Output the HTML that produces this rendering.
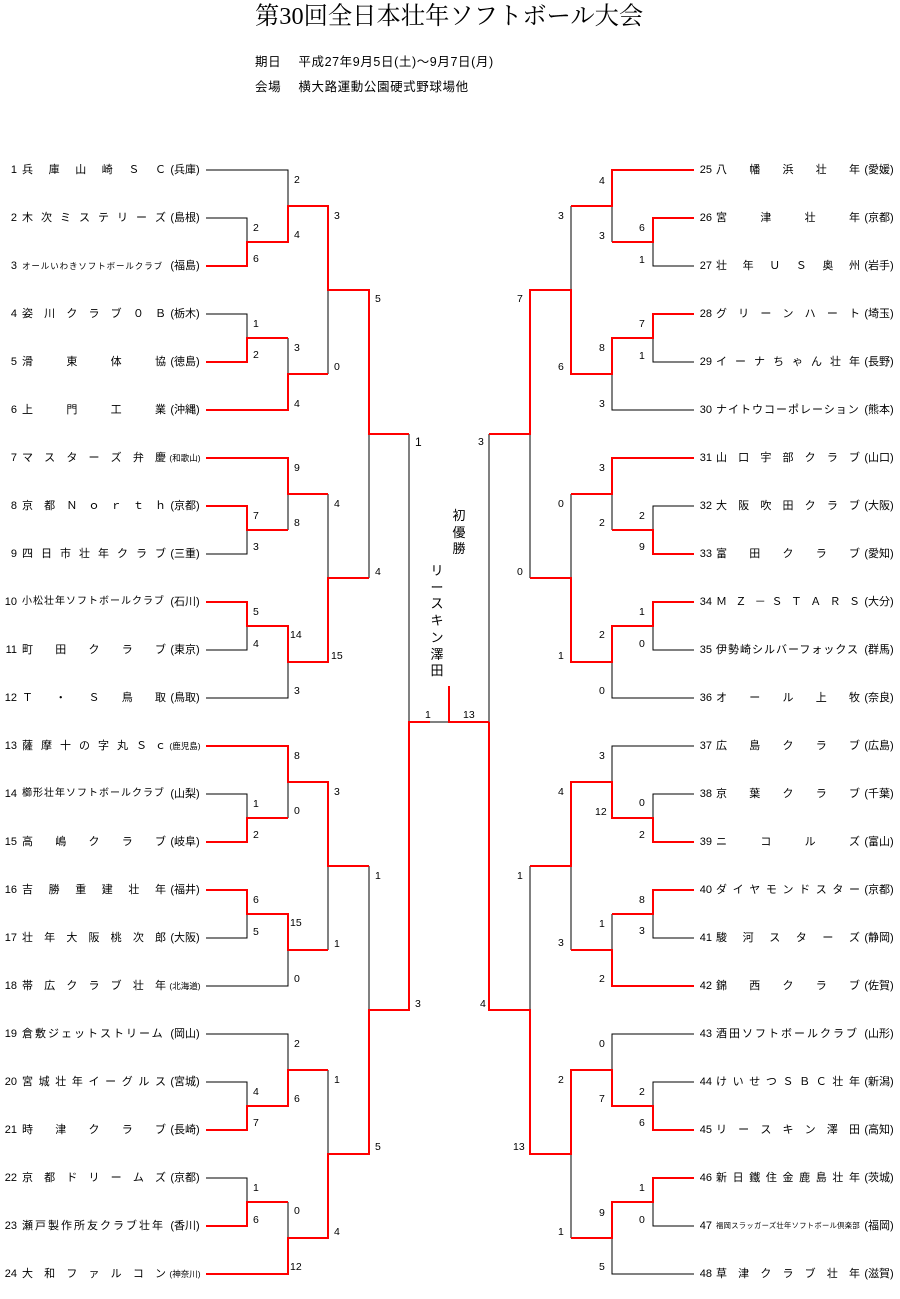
<!DOCTYPE html>
<html><head><meta charset="utf-8">
<style>
html,body{margin:0;padding:0;background:#fff;}
body{width:900px;height:1299px;position:relative;overflow:hidden;font-family:"Liberation Sans","Noto Sans CJK JP",sans-serif;color:#000;}
.ttl{position:absolute;left:255px;top:2px;font-family:"Liberation Serif","Noto Serif CJK SC",serif;font-size:24.3px;line-height:30px;white-space:nowrap;}
.info{position:absolute;left:255px;font-size:12.5px;line-height:16px;white-space:nowrap;letter-spacing:0.6px;}
.t{position:absolute;height:16px;line-height:16px;font-size:11px;white-space:nowrap;}
.t .n{position:absolute;top:0;text-align:right;}
.t .m{position:absolute;top:0;width:144px;text-align:justify;text-align-last:justify;overflow:visible;}
.t .p{position:absolute;top:0;width:36px;text-align:center;}
.L .n{left:0;width:17px;} .L .m{left:22px;} .L .p{left:167px;}
.R .n{left:0;width:16px;} .R .m{left:20px;} .R .p{left:165px;}
.s{font-size:8.5px;} .xs{font-size:7.3px;}
svg{position:absolute;left:0;top:0;}
.v{position:absolute;font-size:13px;line-height:16.5px;width:16px;text-align:center;}
</style></head><body>
<div class="ttl">第30回全日本壮年ソフトボール大会</div>
<div class="info" style="top:54px">期日　 平成27年9月5日(土)～9月7日(月)</div>
<div class="info" style="top:79px">会場　 横大路運動公園硬式野球場他</div>

<svg width="900" height="1299" viewBox="0 0 900 1299">
<g fill="none" stroke="#000" stroke-width="1">
<polyline points="206,170 288,170 288,206"/><polyline points="206,218 247,218 247,242"/>
<polyline points="206,314 247,314 247,338"/><line x1="288" y1="338" x2="288" y2="374"/>
<line x1="328" y1="290" x2="328" y2="374"/>
<polyline points="206,554 247,554 247,530"/><polyline points="206,650 247,650 247,626"/>
<polyline points="206,698 288,698 288,662"/><line x1="288" y1="494" x2="288" y2="530"/>
<line x1="328" y1="494" x2="328" y2="578"/><line x1="369" y1="434" x2="369" y2="578"/>
<polyline points="206,794 247,794 247,818"/><line x1="288" y1="782" x2="288" y2="818"/>
<polyline points="206,938 247,938 247,914"/><polyline points="206,986 288,986 288,950"/>
<line x1="328" y1="866" x2="328" y2="950"/><line x1="369" y1="866" x2="369" y2="1010"/>
<polyline points="206,1034 288,1034 288,1070"/><polyline points="206,1082 247,1082 247,1106"/>
<polyline points="206,1178 247,1178 247,1202"/><line x1="288" y1="1202" x2="288" y2="1238"/>
<line x1="328" y1="1070" x2="328" y2="1154"/>
<line x1="409" y1="434" x2="409" y2="722"/><line x1="430" y1="722" x2="449" y2="722"/>
<line x1="489" y1="434" x2="489" y2="722"/>
<polyline points="694,266 653,266 653,242"/><line x1="612" y1="206" x2="612" y2="242"/>
<line x1="571" y1="206" x2="571" y2="290"/><polyline points="694,362 653,362 653,338"/>
<polyline points="694,410 612,410 612,374"/><line x1="530" y1="434" x2="530" y2="578"/>
<polyline points="694,506 653,506 653,530"/><line x1="612" y1="494" x2="612" y2="530"/>
<polyline points="694,650 653,650 653,626"/><polyline points="694,698 612,698 612,662"/>
<line x1="571" y1="494" x2="571" y2="578"/>
<polyline points="694,746 612,746 612,782"/><polyline points="694,794 653,794 653,818"/>
<polyline points="694,938 653,938 653,914"/><line x1="612" y1="914" x2="612" y2="950"/>
<line x1="571" y1="866" x2="571" y2="950"/><line x1="530" y1="866" x2="530" y2="1010"/>
<polyline points="694,1034 612,1034 612,1070"/><polyline points="694,1082 653,1082 653,1106"/>
<polyline points="694,1226 653,1226 653,1202"/><polyline points="694,1274 612,1274 612,1238"/>
<line x1="571" y1="1154" x2="571" y2="1238"/>
</g>
<g fill="none" stroke="#f00" stroke-width="2">
<polyline points="206,266 247,266 247,242 288,242 288,206 328,206 328,290 369,290 369,434 409,434"/>
<polyline points="206,362 247,362 247,338 288,338"/>
<polyline points="206,410 288,410 288,374 328,374"/>
<polyline points="206,458 288,458 288,494 328,494"/>
<polyline points="206,506 247,506 247,530 288,530"/>
<polyline points="206,602 247,602 247,626 288,626 288,662 328,662 328,578 369,578"/>
<polyline points="206,746 288,746 288,782 328,782 328,866 369,866"/>
<polyline points="206,842 247,842 247,818 288,818"/>
<polyline points="206,890 247,890 247,914 288,914 288,950 328,950"/>
<polyline points="206,1130 247,1130 247,1106 288,1106 288,1070 328,1070"/>
<polyline points="206,1226 247,1226 247,1202 288,1202"/>
<polyline points="206,1274 288,1274 288,1238 328,1238 328,1154 369,1154 369,1010 409,1010 409,722 430,722"/>
<polyline points="449,686 449,722 489,722"/>
<polyline points="694,170 612,170 612,206 571,206"/>
<polyline points="694,218 653,218 653,242 612,242"/>
<polyline points="694,314 653,314 653,338 612,338 612,374 571,374 571,290 530,290 530,434 489,434"/>
<polyline points="694,458 612,458 612,494 571,494"/>
<polyline points="694,554 653,554 653,530 612,530"/>
<polyline points="694,602 653,602 653,626 612,626 612,662 571,662 571,578 530,578"/>
<polyline points="694,842 653,842 653,818 612,818 612,782 571,782 571,866 530,866"/>
<polyline points="694,890 653,890 653,914 612,914"/>
<polyline points="694,986 612,986 612,950 571,950"/>
<polyline points="694,1130 653,1130 653,1106 612,1106 612,1070 571,1070 571,1154 530,1154 530,1010 489,1010 489,722"/>
<polyline points="694,1178 653,1178 653,1202 612,1202 612,1238 571,1238"/>
</g>
<g font-family="Liberation Sans, sans-serif" font-size="10.5" fill="#000">
<text x="294" y="183">2</text><text x="294" y="238">4</text><text x="253" y="231">2</text><text x="253" y="262">6</text>
<text x="334" y="219">3</text><text x="334" y="370">0</text><text x="253" y="327">1</text><text x="253" y="358">2</text>
<text x="294" y="351">3</text><text x="294" y="407">4</text><text x="375" y="302">5</text>
<text x="415" y="446" font-size="12">1</text>
<text x="294" y="471">9</text><text x="294" y="526">8</text><text x="253" y="519">7</text><text x="253" y="550">3</text>
<text x="253" y="615">5</text><text x="253" y="647">4</text><text x="290" y="638">14</text><text x="294" y="694">3</text>
<text x="334" y="507">4</text><text x="331" y="659">15</text><text x="375" y="575">4</text>
<text x="294" y="759">8</text><text x="294" y="814">0</text><text x="253" y="807">1</text><text x="253" y="838">2</text>
<text x="253" y="903">6</text><text x="253" y="935">5</text><text x="290" y="926">15</text><text x="294" y="982">0</text>
<text x="334" y="795">3</text><text x="334" y="947">1</text><text x="375" y="879">1</text>
<text x="294" y="1047">2</text><text x="294" y="1102">6</text><text x="253" y="1095">4</text><text x="253" y="1126">7</text>
<text x="253" y="1191">1</text><text x="253" y="1223">6</text><text x="294" y="1214">0</text><text x="290" y="1270">12</text>
<text x="334" y="1083">1</text><text x="334" y="1235">4</text><text x="375" y="1150">5</text><text x="415" y="1007">3</text>
<text x="425" y="718">1</text><text x="463" y="718">13</text>
<text x="599" y="184">4</text><text x="599" y="239">3</text><text x="639" y="231">6</text><text x="639" y="263">1</text>
<text x="639" y="327">7</text><text x="639" y="359">1</text><text x="599" y="351">8</text><text x="599" y="407">3</text>
<text x="558" y="219">3</text><text x="558" y="370">6</text><text x="517" y="302">7</text><text x="517" y="575">0</text>
<text x="478" y="445">3</text>
<text x="599" y="471">3</text><text x="599" y="526">2</text><text x="639" y="519">2</text><text x="639" y="550">9</text>
<text x="639" y="615">1</text><text x="639" y="647">0</text><text x="599" y="638">2</text><text x="599" y="694">0</text>
<text x="558" y="507">0</text><text x="558" y="659">1</text>
<text x="599" y="759">3</text><text x="595" y="815">12</text><text x="639" y="806">0</text><text x="639" y="838">2</text>
<text x="558" y="795">4</text><text x="558" y="946">3</text>
<text x="639" y="903">8</text><text x="639" y="934">3</text><text x="599" y="927">1</text><text x="599" y="982">2</text>
<text x="517" y="879">1</text><text x="513" y="1150">13</text>
<text x="599" y="1047">0</text><text x="558" y="1083">2</text><text x="599" y="1102">7</text><text x="639" y="1095">2</text><text x="639" y="1126">6</text>
<text x="639" y="1191">1</text><text x="599" y="1216">9</text><text x="639" y="1223">0</text><text x="558" y="1235">1</text><text x="599" y="1270">5</text>
<text x="480" y="1007">4</text>
</g>
</svg>

<div class="v" style="left:451px;top:508px">初<br>優<br>勝</div>
<div class="v" style="left:429px;top:563px;line-height:16.7px">リ<br>ー<br>ス<br>キ<br>ン<br>澤<br>田</div>

<div class="t L" style="left:0;top:162px"><span class="n">1</span><span class="m">兵 庫 山 崎 Ｓ Ｃ</span><span class="p">(兵庫)</span></div>
<div class="t L" style="left:0;top:210px"><span class="n">2</span><span class="m">木 次 ミ ス テ リ ー ズ</span><span class="p">(島根)</span></div>
<div class="t L" style="left:0;top:258px"><span class="n">3</span><span class="m s" style="letter-spacing:0.9px;text-align-last:left">オールいわきソフトボールクラブ</span><span class="p">(福島)</span></div>
<div class="t L" style="left:0;top:306px"><span class="n">4</span><span class="m">姿 川 ク ラ ブ ０ Ｂ</span><span class="p">(栃木)</span></div>
<div class="t L" style="left:0;top:354px"><span class="n">5</span><span class="m">滑 東 体 協</span><span class="p">(徳島)</span></div>
<div class="t L" style="left:0;top:402px"><span class="n">6</span><span class="m">上 門 工 業</span><span class="p">(沖縄)</span></div>
<div class="t L" style="left:0;top:450px"><span class="n">7</span><span class="m">マ ス タ ー ズ 弁 慶</span><span class="p s">(和歌山)</span></div>
<div class="t L" style="left:0;top:498px"><span class="n">8</span><span class="m">京 都 Ｎ ｏ ｒ ｔ ｈ</span><span class="p">(京都)</span></div>
<div class="t L" style="left:0;top:546px"><span class="n">9</span><span class="m">四 日 市 壮 年 ク ラ ブ</span><span class="p">(三重)</span></div>
<div class="t L" style="left:0;top:594px"><span class="n">10</span><span class="m" style="font-size:10px;letter-spacing:1px;text-align-last:left">小松壮年ソフトボールクラブ</span><span class="p">(石川)</span></div>
<div class="t L" style="left:0;top:642px"><span class="n">11</span><span class="m">町 田 ク ラ ブ</span><span class="p">(東京)</span></div>
<div class="t L" style="left:0;top:690px"><span class="n">12</span><span class="m">Ｔ ・ Ｓ 鳥 取</span><span class="p">(鳥取)</span></div>
<div class="t L" style="left:0;top:738px"><span class="n">13</span><span class="m">薩 摩 十 の 字 丸 Ｓ ｃ</span><span class="p s">(鹿児島)</span></div>
<div class="t L" style="left:0;top:786px"><span class="n">14</span><span class="m" style="font-size:10px;letter-spacing:1px;text-align-last:left">櫛形壮年ソフトボールクラブ</span><span class="p">(山梨)</span></div>
<div class="t L" style="left:0;top:834px"><span class="n">15</span><span class="m">高 嶋 ク ラ ブ</span><span class="p">(岐阜)</span></div>
<div class="t L" style="left:0;top:882px"><span class="n">16</span><span class="m">吉 勝 重 建 壮 年</span><span class="p">(福井)</span></div>
<div class="t L" style="left:0;top:930px"><span class="n">17</span><span class="m">壮 年 大 阪 桃 次 郎</span><span class="p">(大阪)</span></div>
<div class="t L" style="left:0;top:978px"><span class="n">18</span><span class="m">帯 広 ク ラ ブ 壮 年</span><span class="p s">(北海道)</span></div>
<div class="t L" style="left:0;top:1026px"><span class="n">19</span><span class="m" style="letter-spacing:2px;text-align-last:left">倉敷ジェットストリーム</span><span class="p">(岡山)</span></div>
<div class="t L" style="left:0;top:1074px"><span class="n">20</span><span class="m">宮 城 壮 年 イ ー グ ル ス</span><span class="p">(宮城)</span></div>
<div class="t L" style="left:0;top:1122px"><span class="n">21</span><span class="m">時 津 ク ラ ブ</span><span class="p">(長崎)</span></div>
<div class="t L" style="left:0;top:1170px"><span class="n">22</span><span class="m">京 都 ド リ ー ム ズ</span><span class="p">(京都)</span></div>
<div class="t L" style="left:0;top:1218px"><span class="n">23</span><span class="m" style="letter-spacing:2px;text-align-last:left">瀬戸製作所友クラブ壮年</span><span class="p">(香川)</span></div>
<div class="t L" style="left:0;top:1266px"><span class="n">24</span><span class="m">大 和 フ ァ ル コ ン</span><span class="p s">(神奈川)</span></div>

<div class="t R" style="left:696px;top:162px"><span class="n">25</span><span class="m">八 幡 浜 壮 年</span><span class="p">(愛媛)</span></div>
<div class="t R" style="left:696px;top:210px"><span class="n">26</span><span class="m">宮 津 壮 年</span><span class="p">(京都)</span></div>
<div class="t R" style="left:696px;top:258px"><span class="n">27</span><span class="m">壮 年 Ｕ Ｓ 奥 州</span><span class="p">(岩手)</span></div>
<div class="t R" style="left:696px;top:306px"><span class="n">28</span><span class="m">グ リ ー ン ハ ー ト</span><span class="p">(埼玉)</span></div>
<div class="t R" style="left:696px;top:354px"><span class="n">29</span><span class="m">イ ー ナ ち ゃ ん 壮 年</span><span class="p">(長野)</span></div>
<div class="t R" style="left:696px;top:402px"><span class="n">30</span><span class="m" style="letter-spacing:1px;text-align-last:left">ナイトウコーポレーション</span><span class="p">(熊本)</span></div>
<div class="t R" style="left:696px;top:450px"><span class="n">31</span><span class="m">山 口 宇 部 ク ラ ブ</span><span class="p">(山口)</span></div>
<div class="t R" style="left:696px;top:498px"><span class="n">32</span><span class="m">大 阪 吹 田 ク ラ ブ</span><span class="p">(大阪)</span></div>
<div class="t R" style="left:696px;top:546px"><span class="n">33</span><span class="m">富 田 ク ラ ブ</span><span class="p">(愛知)</span></div>
<div class="t R" style="left:696px;top:594px"><span class="n">34</span><span class="m">Ｍ Ｚ － Ｓ Ｔ Ａ Ｒ Ｓ</span><span class="p">(大分)</span></div>
<div class="t R" style="left:696px;top:642px"><span class="n">35</span><span class="m" style="letter-spacing:1px;text-align-last:left">伊勢崎シルバーフォックス</span><span class="p">(群馬)</span></div>
<div class="t R" style="left:696px;top:690px"><span class="n">36</span><span class="m">オ ー ル 上 牧</span><span class="p">(奈良)</span></div>
<div class="t R" style="left:696px;top:738px"><span class="n">37</span><span class="m">広 島 ク ラ ブ</span><span class="p">(広島)</span></div>
<div class="t R" style="left:696px;top:786px"><span class="n">38</span><span class="m">京 葉 ク ラ ブ</span><span class="p">(千葉)</span></div>
<div class="t R" style="left:696px;top:834px"><span class="n">39</span><span class="m">ニ コ ル ズ</span><span class="p">(富山)</span></div>
<div class="t R" style="left:696px;top:882px"><span class="n">40</span><span class="m">ダ イ ヤ モ ン ド ス タ ー</span><span class="p">(京都)</span></div>
<div class="t R" style="left:696px;top:930px"><span class="n">41</span><span class="m">駿 河 ス タ ー ズ</span><span class="p">(静岡)</span></div>
<div class="t R" style="left:696px;top:978px"><span class="n">42</span><span class="m">錦 西 ク ラ ブ</span><span class="p">(佐賀)</span></div>
<div class="t R" style="left:696px;top:1026px"><span class="n">43</span><span class="m" style="letter-spacing:2px;text-align-last:left">酒田ソフトボールクラブ</span><span class="p">(山形)</span></div>
<div class="t R" style="left:696px;top:1074px"><span class="n">44</span><span class="m">け い せ つ Ｓ Ｂ Ｃ 壮 年</span><span class="p">(新潟)</span></div>
<div class="t R" style="left:696px;top:1122px"><span class="n">45</span><span class="m">リ ー ス キ ン 澤 田</span><span class="p">(高知)</span></div>
<div class="t R" style="left:696px;top:1170px"><span class="n">46</span><span class="m">新 日 鐵 住 金 鹿 島 壮 年</span><span class="p">(茨城)</span></div>
<div class="t R" style="left:696px;top:1218px"><span class="n">47</span><span class="m xs" style="letter-spacing:0.3px;text-align-last:left">福岡スラッガーズ壮年ソフトボール倶楽部</span><span class="p">(福岡)</span></div>
<div class="t R" style="left:696px;top:1266px"><span class="n">48</span><span class="m">草 津 ク ラ ブ 壮 年</span><span class="p">(滋賀)</span></div>
</body></html>
